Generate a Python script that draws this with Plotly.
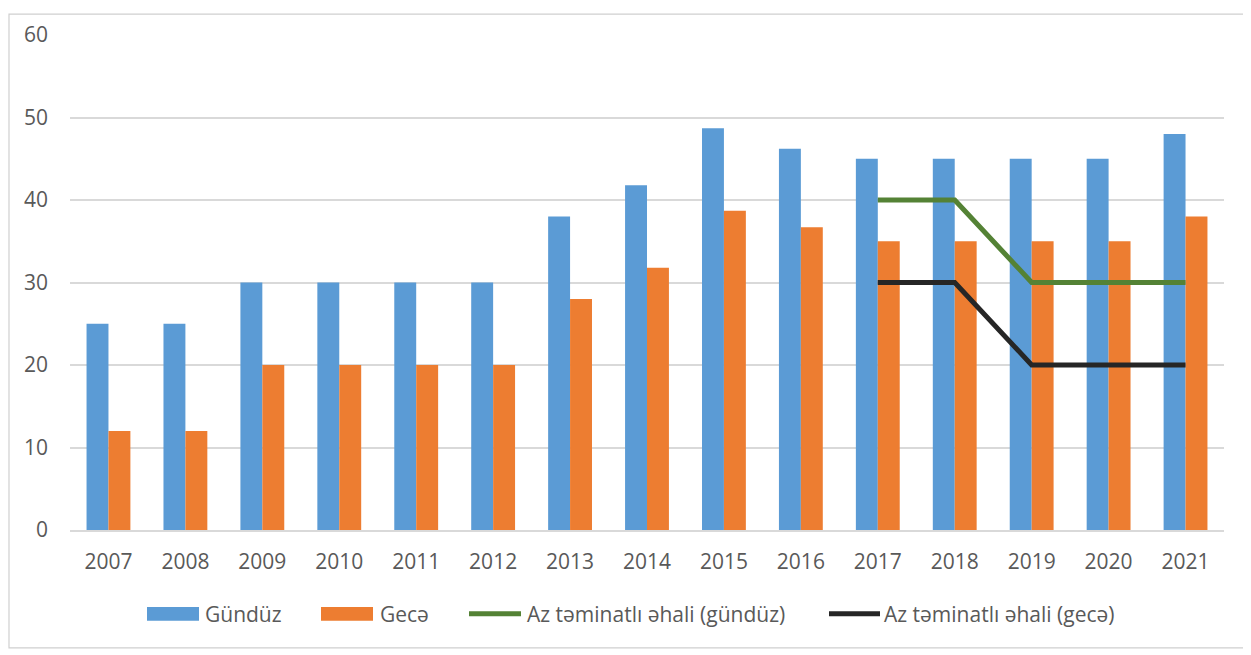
import plotly.graph_objects as go

years = ["2007", "2008", "2009", "2010", "2011", "2012", "2013", "2014",
         "2015", "2016", "2017", "2018", "2019", "2020", "2021"]
gunduz = [25, 25, 30, 30, 30, 30, 38, 41.8, 48.7, 46.2, 45, 45, 45, 45, 48]
gece = [12, 12, 20, 20, 20, 20, 28, 31.8, 38.7, 36.7, 35, 35, 35, 35, 38]
line_years = ["2017", "2018", "2019", "2020", "2021"]
az_gunduz = [40, 40, 30, 30, 30]
az_gece = [30, 30, 20, 20, 20]
legend_names = ["Gündüz", "Gecə", "Az təminatlı əhali (gündüz)",
                "Az təminatlı əhali (gecə)"]

font = "Open Sans"
tc = "#595959"
blue = "#5B9BD5"
orange = "#ED7D31"
green = "#548235"
black = "#262626"

# plot area geometry (page pixels; page body has an 8px margin)
PL, PT, PW, PH = 70, 30, 1154, 500


def px(x):
    return (x - PL) / PW


def py(y):
    return (PT + PH - y) / PH


fig = go.Figure()
fig.add_bar(x=years, y=gunduz, name=legend_names[0], marker_color=blue,
            marker_line_width=0)
fig.add_bar(x=years, y=gece, name=legend_names[1], marker_color=orange,
            marker_line_width=0)
fig.add_scatter(x=line_years, y=az_gunduz, name=legend_names[2],
                mode="lines", line=dict(color=green, width=5))
fig.add_scatter(x=line_years, y=az_gece, name=legend_names[3],
                mode="lines", line=dict(color=black, width=5))

# manual legend (wide swatches like the reference)
ly = 614.7
shapes = [
    dict(type="rect", xref="paper", yref="paper",
         x0=px(9), x1=px(1245), y0=py(649), y1=py(9),
         line=dict(color="#D0D0D0", width=1.2), layer="below"),
    dict(type="rect", xref="paper", yref="paper", x0=px(147), x1=px(199),
         y0=py(ly + 7), y1=py(ly - 7), fillcolor=blue, line_width=0),
    dict(type="rect", xref="paper", yref="paper", x0=px(321), x1=px(373),
         y0=py(ly + 7), y1=py(ly - 7), fillcolor=orange, line_width=0),
    dict(type="line", xref="paper", yref="paper", x0=px(469), x1=px(521),
         y0=py(ly), y1=py(ly), line=dict(color=green, width=5)),
    dict(type="line", xref="paper", yref="paper", x0=px(829), x1=px(880),
         y0=py(ly), y1=py(ly), line=dict(color=black, width=5)),
]
ann_x = [203, 378, 525, 882]
annotations = [
    dict(text=t, x=px(x), y=py(ly), xref="paper", yref="paper",
         xanchor="left", yanchor="middle", showarrow=False,
         font=dict(size=21, color=tc, family=font))
    for t, x in zip(legend_names, ann_x)
]

fig.update_layout(
    width=1243, height=647,
    margin=dict(l=62, r=27, t=22, b=125),
    paper_bgcolor="white", plot_bgcolor="white",
    barmode="group", bargap=0.43, bargroupgap=0,
    font=dict(family=font, size=21, color=tc),
    showlegend=False,
    xaxis=dict(showgrid=False, showline=True, linecolor="#D9D9D9",
               linewidth=2, ticks="", ticklabelstandoff=12,
               tickfont=dict(size=21, color=tc)),
    yaxis=dict(range=[0, 60], dtick=10, showgrid=True, gridcolor="#D9D9D9",
               gridwidth=2, zeroline=False, showline=False, ticks="",
               ticklabelstandoff=21, tickfont=dict(size=21, color=tc)),
    shapes=shapes,
    annotations=annotations,
)

fig.write_html("out.html")
